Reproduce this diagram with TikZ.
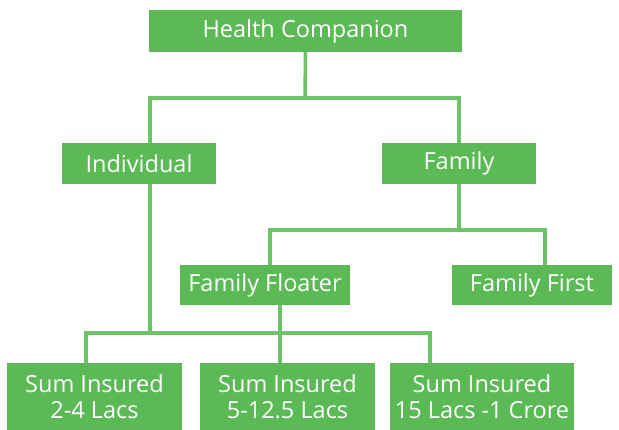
\documentclass[tikz,border=0pt]{standalone}
\usepackage{fontspec}
\setmainfont{Open Sans}
\definecolor{boxg}{RGB}{92,186,86}
\definecolor{lineg}{RGB}{110,195,105}
\begin{document}
\begin{tikzpicture}[x=1pt,y=-1pt,
  box/.style={fill=boxg, text=white, inner sep=0pt, align=center,
    font=\fontsize{23.5}{26}\selectfont},
  conn/.style={draw=lineg, line width=3.5pt}]
\useasboundingbox[fill=white] (0,0) rectangle (619,430);
\node[box, minimum width=313pt, minimum height=42pt] (top) at (305.5,31) {Health Companion};
\node[box, minimum width=154pt, minimum height=41pt] (ind) at (139,163.5) {Individual};
\node[box, minimum width=154pt, minimum height=41pt] (fam) at (459,163.5) {Family};
\node[box, minimum width=170pt, minimum height=40pt] (flo) at (265,285) {Family Floater};
\node[box, minimum width=160pt, minimum height=40pt] (ffi) at (532,285) {Family First};
\node[box, minimum width=175pt, minimum height=68pt] (s1) at (94.5,397) {Sum Insured\\2-4 Lacs};
\node[box, minimum width=175pt, minimum height=68pt] (s2) at (287.5,397) {Sum Insured\\5-12.5 Lacs};
\node[box, minimum width=184pt, minimum height=68pt] (s3) at (482,397) {Sum Insured\\15 Lacs -1 Crore};
\coordinate (jtop) at (305,98);
\coordinate (jL) at (150,98);
\coordinate (jR) at (459,98);
\coordinate (k1) at (270,230);
\coordinate (k2) at (545,230);
\coordinate (m1) at (86,333);
\coordinate (m3) at (430,333);
\coordinate (mI) at (150,333);
\coordinate (mF) at (280,333);
\draw[conn] (top.south) -- (jtop);
\draw[conn] (ind.north -| jL) -- (jL) -- (jR) -- (fam.north);
\draw[conn] (fam.south) -- (fam.south |- k1);
\draw[conn] (flo.north -| k1) -- (k1) -- (k2) -- (ffi.north -| k2);
\draw[conn] (ind.south -| jL) -- (mI);
\draw[conn] (flo.south -| mF) -- (mF);
\draw[conn] (s1.north -| m1) -- (m1) -- (m3) -- (s3.north -| m3);
\draw[conn] (s2.north -| mF) -- (mF);
\end{tikzpicture}
\end{document}
